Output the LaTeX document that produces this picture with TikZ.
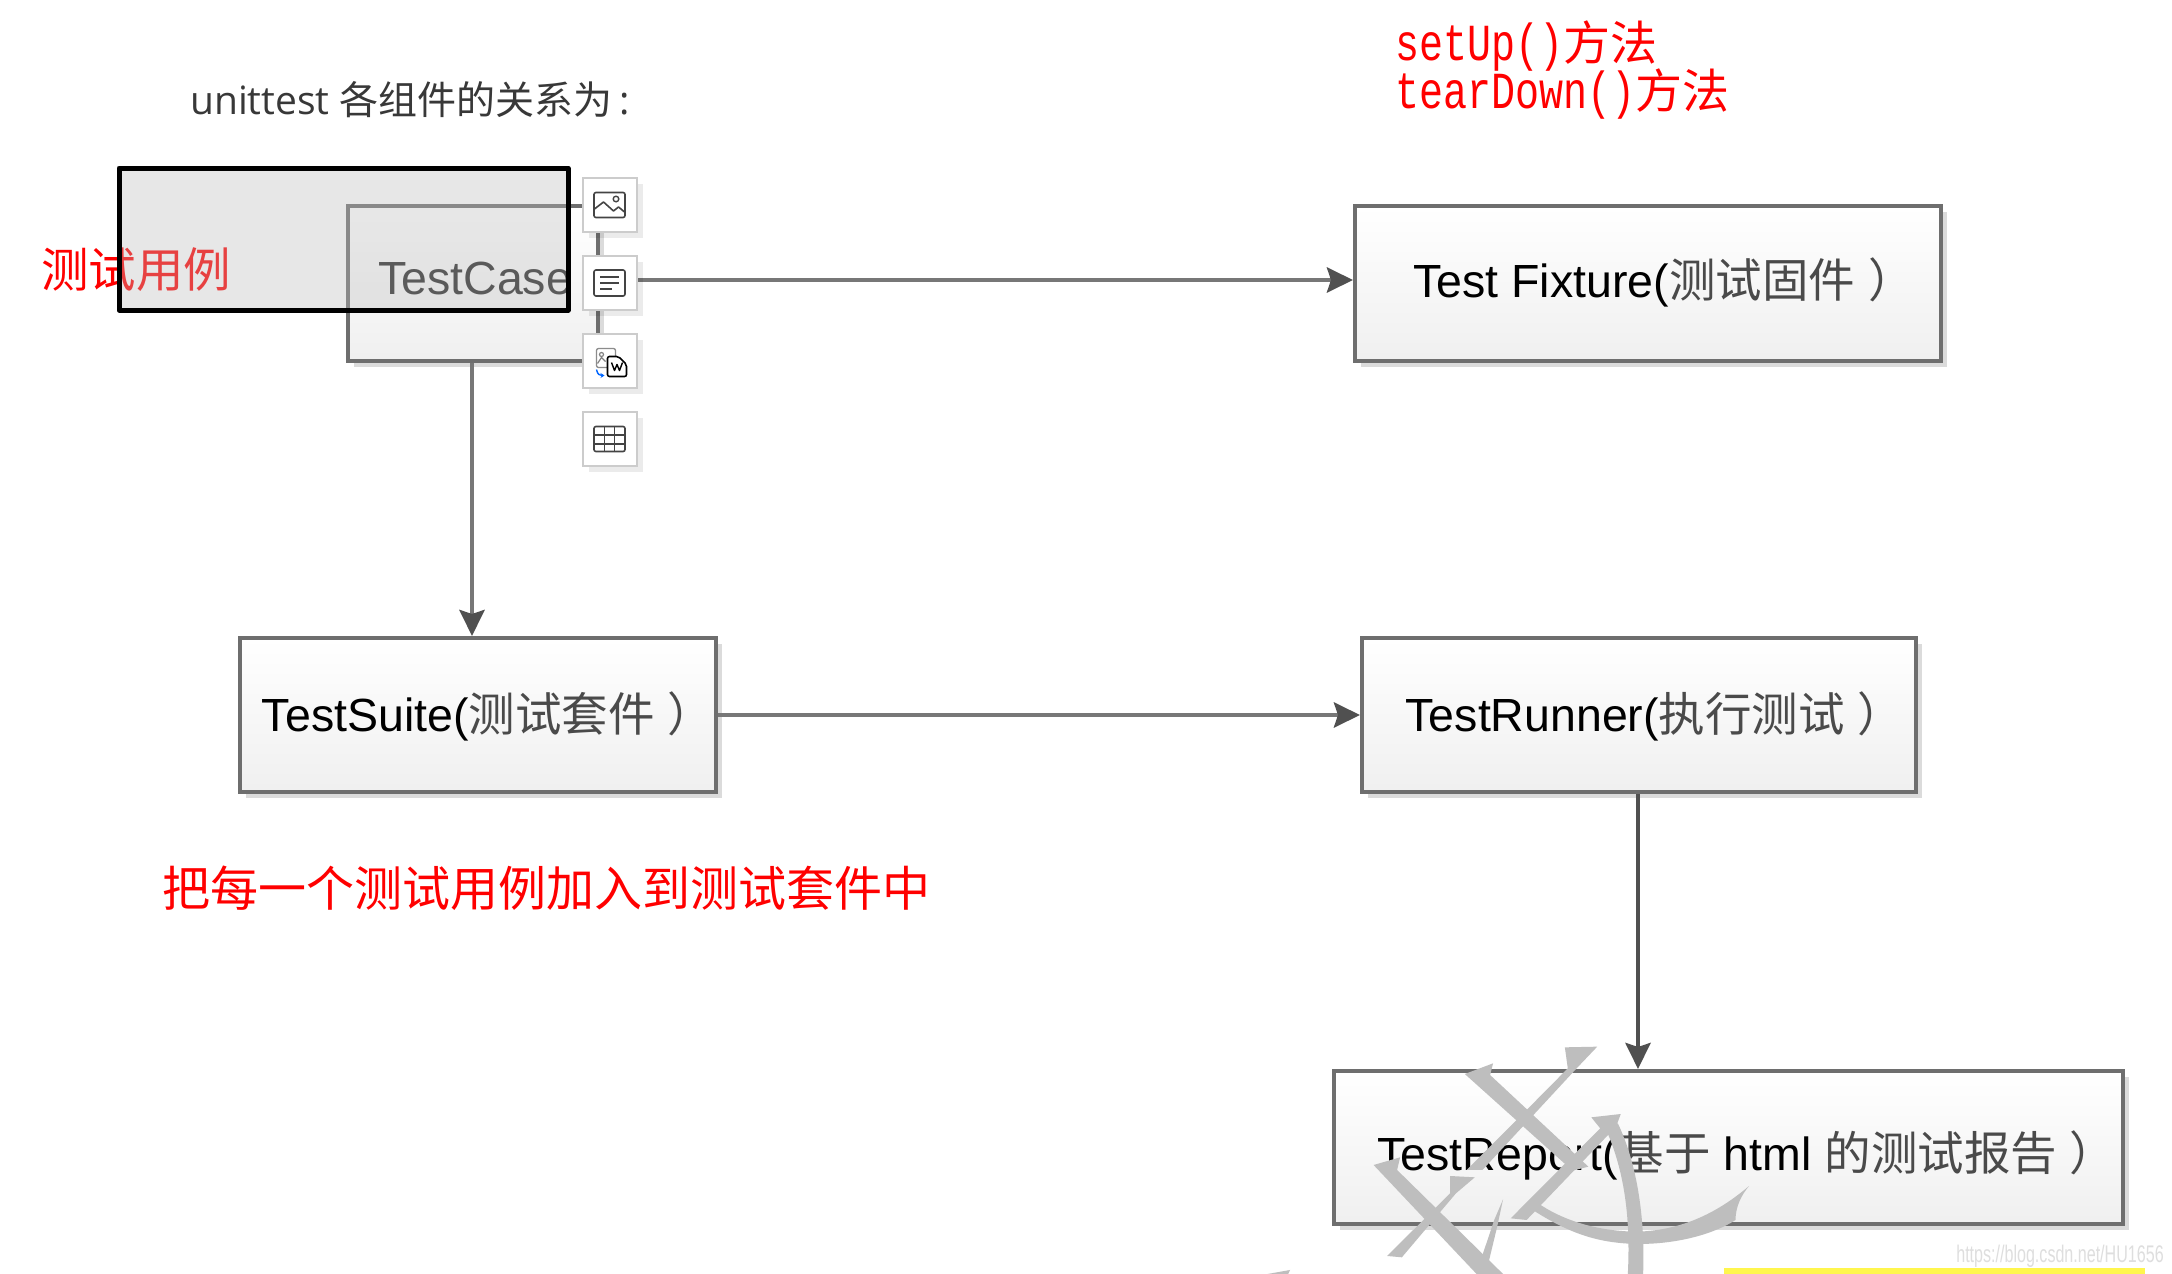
\documentclass[tikz,border=0pt]{standalone}
\usepackage{fontspec}
\setmainfont{Liberation Sans}
\newfontfamily\cjk{Noto Sans CJK SC}
\newfontfamily\opensans{Open Sans}
\newfontfamily\monon[FakeStretch=0.77]{Liberation Mono}
\usetikzlibrary{arrows.meta,shadows}
\definecolor{boxline}{HTML}{6E6E6E}
\definecolor{conn}{HTML}{777777}
\definecolor{head}{HTML}{505050}
\definecolor{cjkgrey}{HTML}{4A4A4A}
\definecolor{wm}{HTML}{BEBEBE}
\definecolor{overlay}{HTML}{BDBDBD}
\definecolor{btnline}{HTML}{CCCCCC}
\definecolor{iconline}{HTML}{444444}
\newcommand{\zh}[1]{{\cjk\color{cjkgrey}#1}}
\tikzset{
  x=1pt,y=-1pt,
  flowbox/.style={draw=boxline,line width=4pt,top color=white,bottom color=black!6,
    drop shadow={shadow xshift=6pt,shadow yshift=-6pt,fill=black!14,opacity=1},
    inner sep=0pt,text=black},
  boxtext/.style={inner sep=0pt,font=\fontsize{46.5}{50}\selectfont},
  link/.style={draw=conn,line width=4.5pt,-{Stealth[length=26pt,width=25pt,inset=4pt,color=head]}},
  redtext/.style={text=red,inner sep=0pt,font=\cjk\fontsize{47.5}{50}\selectfont},
  toolbtn/.style={draw=btnline,line width=2pt,fill=white,minimum width=54pt,minimum height=54pt,
    inner sep=0pt,drop shadow={shadow xshift=6pt,shadow yshift=-6pt,fill=black,opacity=0.08}},
  icon/.style={draw=iconline,line width=1.6pt,rounded corners=2pt},
  glyphstroke/.style={fill=wm,draw=none},
}
\begin{document}
\begin{tikzpicture}
\useasboundingbox (0,0) rectangle (2172,1274);
\fill[white] (0,0) rectangle (2172,1274);

% headline texts
\node[anchor=west,inner sep=0pt,text=black!78,font=\opensans\fontsize{39}{42}\selectfont] (title) at (190,100)
  {unittest {\cjk 各组件的关系为}\,:};
\node[anchor=west,redtext,align=left,font=\fontsize{47}{47}\selectfont] (methods) at (1395,70)
  {{\monon\fontsize{52}{47}\selectfont setUp()}{\cjk 方法}\\[-3pt]{\monon\fontsize{52}{47}\selectfont tearDown()}{\cjk 方法}};

% boxes
\node[flowbox,minimum width=250pt,minimum height=155pt] (case) at (473,283.5) {};
\node[flowbox,minimum width=586pt,minimum height=155pt] (fixture) at (1648,283.5) {};
\node[flowbox,minimum width=476pt,minimum height=154pt] (suite) at (478,715) {};
\node[flowbox,minimum width=554pt,minimum height=154pt] (runner) at (1639,715) {};
\node[flowbox,minimum width=789pt,minimum height=153pt] (report) at (1728.5,1147.5) {};

\node[boxtext,text=black!85,anchor=west] (casetext) at (378,278.5) {TestCase};
\node[boxtext] (fixturetext) at (1664,282) {Test Fixture(\zh{测试固件}\ \zh{）}\hspace{-24pt}};
\node[boxtext] (suitetext) at (488,716) {TestSuite(\zh{测试套件}\ \zh{）}\hspace{-24pt}};
\node[boxtext] (runnertext) at (1655,716) {TestRunner(\zh{执行测试}\ \zh{）}\hspace{-24pt}};
\node[boxtext] (reporttext) at (1747,1155) {TestReport(\zh{基于} html \zh{的测试报告}\ \zh{）}\hspace{-24pt}};

% connectors
\coordinate (cx) at (472,0);
\coordinate (rx) at (1638,0);
\coordinate (fy) at (0,280);
\draw[link] (case.east |- fy) -- (fixture.west |- fy);
\draw[link] (case.south -| cx) -- (suite.north -| cx);
\draw[link] (suite.east) -- (runner.west);
\draw[link,draw=head] (runner.south -| rx) -- (report.north -| rx);

% red notes
\node[redtext,anchor=west] (casenote) at (41,270) {测试用例};
\node[redtext,anchor=west,font=\cjk\fontsize{48}{50}\selectfont] (suitenote) at (162,888) {把每一个测试用例加入到测试套件中};

% selection overlay
\filldraw[draw=black,line width=5pt,fill=overlay,fill opacity=0.35,draw opacity=1,line join=round] (119,168) rectangle (568,310);

% toolbar buttons
\node[toolbtn] (b1) at (609.5,205) {};
\node[toolbtn] (b2) at (609.5,283) {};
\node[toolbtn] (b3) at (609.5,360.5) {};
\node[toolbtn] (b4) at (609.5,439) {};

\begin{scope}[shift={(b1.center)}]
  \draw[icon] (-15.5,-12.5) rectangle (15.5,12.5);
  \draw[iconline,line width=1.6pt,line join=round] (-15,4) -- (-6,-3) -- (4,6) -- (9,2) -- (15,7);
  \draw[iconline,line width=1.4pt] (6.5,-6) circle (2.8);
\end{scope}
\begin{scope}[shift={(b2.center)}]
  \draw[icon] (-15.5,-13) rectangle (15.5,13);
  \draw[iconline,line width=1.6pt] (-9.5,-6) -- (9.5,-6) (-9.5,0) -- (9.5,0) (-9.5,6) -- (2,6);
\end{scope}
\begin{scope}[shift={(b3.center)}]
  \draw[draw=black!45,line width=1.3pt,rounded corners=2pt] (-13,-12) rectangle (6,7);
  \draw[black!50,line width=1.2pt] (-8,-6) circle (2) (-12,3) -- (-8,-3) -- (-4,1);
  \draw[draw=black,fill=white,line width=1.6pt,rounded corners=2pt] (-2,-4) -- (9,-4) -- (17,4) -- (17,16) -- (-2,16) -- cycle;
  \draw[black,line width=1.4pt,line join=round] (2,2) -- (5,10) -- (7.5,4) -- (10,10) -- (13,2);
  \draw[blue!60!cyan,line width=1.4pt,-{Stealth[length=4pt,width=5pt]}] (-13,9) .. controls (-12,14) and (-10,15) .. (-5,15);
\end{scope}
\begin{scope}[shift={(b4.center)}]
  \draw[icon] (-15.5,-12.5) rectangle (15.5,12.5);
  \draw[iconline,line width=1.4pt] (-5,-12.5) -- (-5,12.5) (5,-12.5) -- (5,12.5) (-15.5,-4) -- (15.5,-4) (-15.5,5) -- (15.5,5);
\end{scope}

% big grey stamp strokes (coordinates read from the reference crop)
\begin{scope}[shift={(1250,1000)},x=0.5885pt,y=-0.3333pt]
  \fill[glyphstroke] (535,142) -- (590,140) -- (555,205) -- (395,510) -- (368,510) -- (470,330) -- (540,205) -- cycle;
  \fill[glyphstroke] (365,222) -- (413,190) -- (408,225) -- (575,500) -- (548,512) -- cycle;
  \fill[glyphstroke] (580,352) -- (630,342) -- (622,380) -- (470,660) -- (443,655) -- (595,385) -- cycle;
  \fill[glyphstroke] (600,370) .. controls (630,480) and (648,620) .. (642,822) -- (668,822) .. controls (672,640) and (655,480) .. (625,370) -- cycle;
  \fill[glyphstroke] (470,618) .. controls (540,700) and (590,730) .. (660,732) .. controls (730,732) and (790,700) .. (825,660) .. controls (825,620) and (835,585) .. (848,558) .. controls (800,630) and (740,690) .. (660,695) .. controls (590,695) and (530,660) .. (488,608) -- cycle;
  \fill[glyphstroke] (210,495) -- (255,472) -- (250,510) -- (430,822) -- (385,822) -- cycle;
  \fill[glyphstroke] (340,528) -- (382,532) -- (350,580) -- (258,772) -- (233,768) -- (340,580) -- cycle;
  \fill[glyphstroke] (430,598) -- (420,680) -- (405,790) -- (395,765) -- (415,660) -- cycle;
  \fill[glyphstroke] (30,822) -- (68,810) -- (65,822) -- cycle;
  \fill[yellow!70!white] (805,805) rectangle (1520,822);
\end{scope}

\node[inner sep=0pt,text=black!13,xscale=0.67,font=\fontsize{24}{26}\selectfont] (wmark) at (2060,1256) {https://blog.csdn.net/HU1656};
\end{tikzpicture}
\end{document}
